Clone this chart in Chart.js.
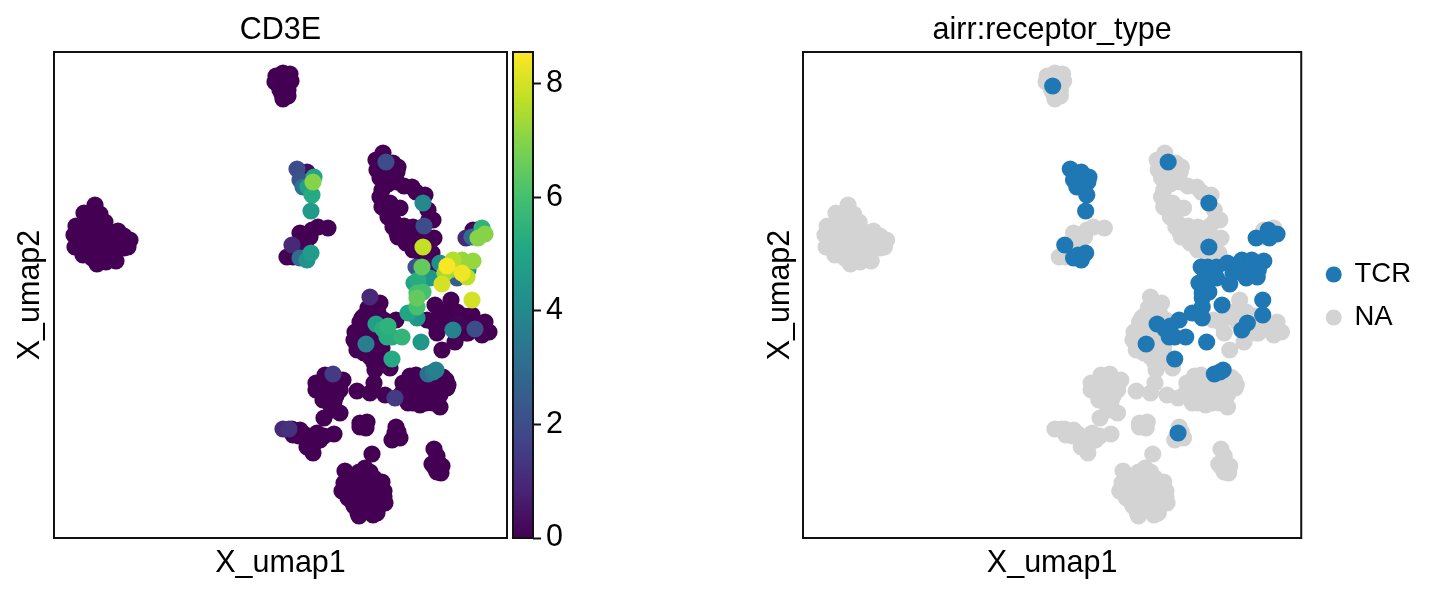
<!DOCTYPE html>
<html>
<head>
<meta charset="utf-8">
<script src="https://cdn.jsdelivr.net/npm/chart.js@4/dist/chart.umd.min.js"></script>
<style>
  html, body { margin: 0; padding: 0; background: #fff; }
  body { width: 1439px; height: 592px; position: relative; overflow: hidden; }
  canvas { position: absolute; top: 0; }
</style>
</head>
<body>
<canvas id="umapExpr" width="561" height="592" style="left:0"></canvas>
<canvas id="colorBar" width="100" height="592" style="left:505px"></canvas>
<canvas id="umapType" width="689" height="592" style="left:750px"></canvas>
<script>
// cells without a receptor call
const naUmap1 = [
    41,30,46,51,34,22,20,31,43,38,21,29,36,46,55,64,70,76,74,63,51,43,62,54,
    38,42,30,26,37,50,56,44,30,38,46,56,62,68,52,38,24,58,46,70,
    229,222,236,221,237,229,226,234,229,234,232,224,228,
    274,264,246,256,233,239,246,251,258,
    329,323,339,344,328,326,343,358,371,328,346,334,339,343,359,370,379,374,353,344,369,359,378,376,336,331,326,
    322,336,343,334,350,362,332,336,340,350,362,370,380,375,365,352,364,373,368,350,345,
    419,418,428,
    397,389,373,403,431,428,414,421,435,401,383,388,411,
    395,410,420,425,408,395,385,412,380,
    316,326,314,301,306,314,303,326,323,316,321,336,309,318,
    320,310,322,330,300,312,320,308,316,324,302,328,310,318,330,320,
    271,279,289,262,276,286,269,280,286,270,278,303,316,320,331,341,
    280,272,270,278,285,275,282,268,276,283,262,
    356,349,348,359,359,366,379,386,373,386,393,389,366,386,373,356,366,354,
    354,362,370,378,378,366,372,380,386,392,352,360,380,372,362,394,364,350,
    238,229,235,246,239,263,280,259,253,259,266,
    263,256,270,258,253,250,245,
    306,313,312,306,342,338,346,342,344,
    380,383,378,388,383,387,318,384,381,
    291,311,328,288,294,330,331,304,319,306,316,299,313,321,306,319,299,296,309,323,
    296,304,320,290,300,310,325,292,300,312,325,300,312,325,305,318,330,305,316,328
];
const naUmap2 = [
    333,325,324,316,316,312,303,306,306,298,291,283,290,295,298,307,302,298,291,288,288,274,277,282,
    320,314,312,302,306,306,306,300,295,288,284,292,296,294,276,280,297,284,277,290,
    465,462,464,456,457,456,448,448,439,442,452,456,444,
    310,311,305,301,281,281,295,293,308,
    385,368,375,371,348,341,356,351,343,331,330,321,311,305,311,312,318,328,301,301,298,288,285,273,356,363,360,
    378,368,366,354,352,346,328,335,316,306,301,303,300,318,305,295,290,277,282,312,312,
    308,301,310,
    238,221,218,226,216,203,205,209,206,196,205,188,216,
    228,222,215,210,210,216,222,205,215,
    241,235,230,206,216,213,188,195,185,181,168,170,203,198,
    232,222,222,218,198,205,205,220,222,225,195,190,185,190,180,175,
    163,164,158,148,148,148,138,136,125,120,128,147,145,155,143,140,
    155,152,144,140,155,135,142,150,158,152,155,
    162,155,145,151,135,133,135,131,148,155,150,161,158,143,141,141,145,135,
    150,155,155,155,145,138,135,142,148,158,140,142,160,158,163,153,150,148,
    109,109,109,108,103,105,104,95,91,85,98,
    97,92,102,100,98,104,102,
    115,116,110,111,111,98,100,104,106,
    89,82,74,72,66,65,84,76,70,
    67,70,56,47,40,41,35,25,23,51,51,58,61,48,38,35,35,51,31,25,
    60,62,60,55,50,55,50,45,42,42,40,32,30,32,22,30,47,66,66,44
];
const naCd3e = [
    0,0,0,0,0,0,0,0,0,0,0,0,0,0,0,0,0,0,0,0,0,0,0,0,
    0,0,0,0,0,0,0,0,0,0,0,0,0,0,0,0,0,0,0,0,
    0,0,0,0,0,0,0,0,0,0,0,0,0,
    0,0,0,0,0,0,0,0,0,
    0,0,0,0,0,0,0,0,0,0,0,0,0,0,0,2.0,0,0,0,0,0,0,0,0,0,0,0,
    0,0,0,0,0,0,0,0,0,0,0,0,0,0,0,0,0,0,0,0,0,
    0,3.0,5.5,
    0,0,0,0,0,0,0,2.0,0,0,0,0,0,
    0,0,0,0,0,0,0,0,0,
    1.0,0,0,0,0,0,0,0,0,0,0,0,0,0,
    0,0,0,0,0,0,0,0,0,0,0,0,0,0,0,0,
    0,1.5,0,0,0,0,0,0,0,0,0,0,0,0,0,1.5,
    0,0,0,0,0,0,0,0,0,0,0,
    0,0,0,0,0,0,0,0,0,0,0,0,0,0,0,0,0,0,
    0,0,0,0,0,0,0,0,0,0,0,0,0,0,0,0,0,0,
    0,1.0,1.2,0,0,0,0,0,0,0,0,
    0,0,0,0,0,0,0,
    0,0,0,0,0,0,0,0,0,
    0,0,0,0,0,0,0,0,0,
    0,0,0,0,0,0,0,0,0,0,0,0,0,0,0,0,0,0,0,0,
    0,0,0,0,0,0,0,0,0,0,0,0,0,0,0,0,0,0,0,0
];

// cells with a TCR
const tcrUmap1 = [
    227,
    243,246,249,253,260,259,254,258,257,
    238,246,253,257,250,
    332,369,369,
    412,431,424,423,
    368,362,376,364,376,386,393,399,408,419,391,408,413,403,414,396,388,418,369,363,363,354,363,363,360,
    381,418,399,367,404,
    342,322,334,329,338,348,333,312,338,
    374,382,379,
    341
];
const tcrUmap2 = [
    452,
    369,358,351,366,361,356,351,343,327,
    293,280,278,285,283,
    376,335,291,
    300,304,300,308,
    271,271,271,258,260,275,272,278,278,277,265,265,261,260,268,268,254,238,246,240,231,225,220,245,255,
    233,223,208,196,215,
    218,214,212,209,201,201,201,194,179,
    164,168,166,
    105
];
const tcrCd3e = [
    0,
    2.0,2.2,3.3,0.3,5.0,7.0,4.8,5.2,4.6,
    1.0,3.0,4.3,4.7,0.2,
    2.0,4.0,7.8,
    1.0,7.0,7.0,0.3,
    6.5,2.2,0.3,5.3,4.5,4.2,8.5,7.6,7.2,7.2,7.4,8.4,7.7,2.5,4.2,6.5,8.0,8.0,6.0,6.5,6.0,5.0,4.5,6.0,5.0,
    0,0,3.8,4.5,0.1,
    0,4.8,5.5,5.3,5.2,5.6,5.3,3.6,5.2,
    3.0,3.7,3.5,
    0
];

const umap1Max = 453;
const umap2Max = 486;
const cd3eMax = 8.56;
const cbTicks = [0, 2, 4, 6, 8];
const typeLabels = ['TCR', 'NA'];
const typeColors = ['#1f77b4', '#d3d3d3'];

const viridis = ['#440154','#482475','#414487','#355f8d','#2a788e','#21918c','#22a884','#44bf70','#7ad151','#bddf26','#fde725'];

const FONT = 'Liberation Sans, Arial, sans-serif';
const FONT_SIZE = 30.5;
const DOT_RADIUS = 8.6;
Chart.defaults.font.family = FONT;
Chart.defaults.color = '#000';
Chart.defaults.animation = false;

// colour for a 0-1 position on the viridis map
function viridisAt(t) {
    t = Math.min(1, Math.max(0, t));
    const pos = t * (viridis.length - 1);
    const i = Math.min(Math.floor(pos), viridis.length - 2);
    const f = pos - i;
    const a = parseInt(viridis[i].slice(1), 16);
    const b = parseInt(viridis[i + 1].slice(1), 16);
    const mix = shift => Math.round(((a >> shift) & 255) * (1 - f) + ((b >> shift) & 255) * f);
    return 'rgb(' + mix(16) + ',' + mix(8) + ',' + mix(0) + ')';
}

function toPoints(xs, ys) {
    return xs.map((x, i) => ({ x: x, y: ys[i] }));
}

// black box round the plot area
const framePlugin = {
    id: 'frame',
    afterDraw(chart) {
        const a = chart.chartArea;
        const ctx = chart.ctx;
        ctx.save();
        ctx.strokeStyle = '#111';
        ctx.lineWidth = 2;
        ctx.strokeRect(a.left, a.top, a.right - a.left, a.bottom - a.top);
        ctx.restore();
    }
};

// the panel title is the title of a top axis, so it centres over the plot area
function umapScales(leftWidth, panelTitle) {
    return {
        x: {
            type: 'linear', min: 0, max: umap1Max,
            grid: { display: false }, border: { display: false }, ticks: { display: false },
            title: { display: true, text: 'X_umap1', font: { size: FONT_SIZE }, padding: { top: 0, bottom: 10 } },
            afterFit(scale) { scale.height = 54; }
        },
        panelTop: {
            axis: 'x', position: 'top', type: 'linear', min: 0, max: umap1Max,
            grid: { display: false }, border: { display: false }, ticks: { display: false },
            title: { display: true, text: panelTitle, font: { size: FONT_SIZE }, padding: { top: 12, bottom: 0 } },
            afterFit(scale) { scale.height = 52; }
        },
        y: {
            type: 'linear', min: 0, max: umap2Max,
            grid: { display: false }, border: { display: false }, ticks: { display: false },
            title: { display: true, text: 'X_umap2', font: { size: FONT_SIZE }, padding: { top: 12, bottom: 0 } },
            afterFit(scale) { scale.width = leftWidth; }
        }
    };
}

// left panel: every cell coloured by expression, highest drawn last
const allX = naUmap1.concat(tcrUmap1);
const allY = naUmap2.concat(tcrUmap2);
const allV = naCd3e.concat(tcrCd3e);
const order = allV.map((v, i) => i).sort((a, b) => allV[a] - allV[b]);

new Chart(document.getElementById('umapExpr'), {
    type: 'scatter',
    data: {
        datasets: [{
            label: 'CD3E',
            data: order.map(i => ({ x: allX[i], y: allY[i] })),
            backgroundColor: order.map(i => viridisAt(allV[i] / cd3eMax)),
            borderWidth: 0,
            pointRadius: DOT_RADIUS
        }]
    },
    options: {
        responsive: false,
        events: [],
        layout: { padding: { right: 54 } },
        scales: umapScales(54, 'CD3E'),
        plugins: { legend: { display: false }, tooltip: { enabled: false } }
    },
    plugins: [framePlugin]
});

// colour bar next to the left panel
new Chart(document.getElementById('colorBar'), {
    type: 'bar',
    data: {
        labels: ['CD3E'],
        datasets: [{
            data: [cd3eMax],
            barPercentage: 1,
            categoryPercentage: 1,
            backgroundColor(context) {
                const area = context.chart.chartArea;
                if (!area) return viridis[0];
                const g = context.chart.ctx.createLinearGradient(0, area.bottom, 0, area.top);
                viridis.forEach((c, i) => g.addColorStop(i / (viridis.length - 1), c));
                return g;
            }
        }]
    },
    options: {
        responsive: false,
        events: [],
        layout: { padding: { left: 8, top: 52, bottom: 54, right: 0 }, autoPadding: false },
        scales: {
            x: { display: false },
            y: {
                position: 'right', min: 0, max: cd3eMax,
                afterBuildTicks(scale) { scale.ticks = cbTicks.map(v => ({ value: v })); },
                grid: { drawOnChartArea: false, drawTicks: true, tickLength: 8, tickWidth: 2, tickColor: '#111' },
                border: { display: false },
                ticks: { font: { size: FONT_SIZE }, padding: 5, color: '#000' },
                afterFit(scale) { scale.width = 72; }
            }
        },
        plugins: { legend: { display: false }, tooltip: { enabled: false } }
    },
    plugins: [framePlugin]
});

// right panel: same cells by receptor type, TCR on top
const typeScales = umapScales(53, 'airr:receptor_type');
// empty axis keeps the legend clear of the plot box
typeScales.legendGap = {
    axis: 'y', position: 'right', type: 'linear',
    grid: { display: false }, border: { display: false }, ticks: { display: false },
    afterFit(scale) { scale.width = 10; }
};

new Chart(document.getElementById('umapType'), {
    type: 'scatter',
    data: {
        datasets: [
            { label: typeLabels[0], data: toPoints(tcrUmap1, tcrUmap2), backgroundColor: typeColors[0], borderWidth: 0, pointRadius: DOT_RADIUS, pointStyle: 'circle' },
            { label: typeLabels[1], data: toPoints(naUmap1, naUmap2), backgroundColor: typeColors[1], borderWidth: 0, pointRadius: DOT_RADIUS, pointStyle: 'circle' }
        ]
    },
    options: {
        responsive: false,
        events: [],
        layout: { padding: { right: 18 } },
        scales: typeScales,
        plugins: {
            tooltip: { enabled: false },
            legend: {
                position: 'right',
                labels: {
                    usePointStyle: true,
                    boxWidth: 14,
                    boxHeight: 11.3,
                    padding: 15.5,
                    font: { size: 27.5 },
                    color: '#000'
                }
            }
        }
    },
    plugins: [framePlugin]
});
</script>
</body>
</html>
